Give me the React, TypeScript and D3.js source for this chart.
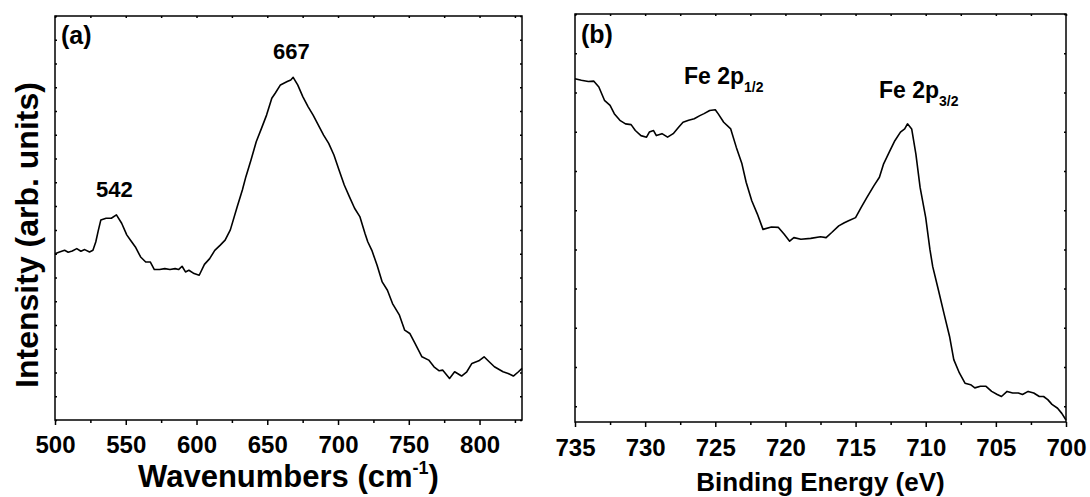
import React, { useEffect, useRef } from "react";
import * as d3 from "d3";

const FONT = "'Liberation Sans', Arial, Helvetica, sans-serif";

// (a) Raman spectrum, intensity in arbitrary tick units
const ramanWave = [
  500, 503.2, 506.8, 509.3, 512.2, 515.4, 518.3, 521, 524.4, 526.8, 528.8, 530.5, 532.4, 536.1, 539.8,
  543.4, 547.1, 550.7, 553.5, 556.8, 560.5, 564.1, 567.3, 570.2, 573.9, 577.6, 581.2, 584.9, 587.3,
  589.8, 592.2, 594.6, 598.3, 601.9, 605.6, 609.3, 612.9, 616.6, 620.2, 623.9, 628.8, 632.4, 634.9,
  638.5, 642.2, 645.9, 649.5, 653.2, 655.6, 659.3, 661.7, 664.1, 666.6, 668.3, 671.5, 675.1, 678.8,
  682.4, 686.1, 689.8, 693.4, 697.1, 700.7, 704.4, 708, 711.7, 715.4, 719, 721, 723.9, 727.6, 731.2,
  734.9, 738.5, 743.4, 747.1, 750.7, 754.4, 759.3, 764.1, 767.8, 771.5, 773.9, 778.8, 782.4, 787.3,
  791, 794.6, 799.5, 803.2, 806.8, 810.5, 816.6, 820.2, 823.9, 827.5, 830,
];
const ramanInt = [
  7.0, 7.07, 7.14, 7.06, 7.11, 7.21, 7.1, 7.17, 7.07, 7.14, 7.49, 7.95, 8.42, 8.49, 8.49,
  8.63, 8.28, 7.79, 7.55, 7.28, 6.86, 6.65, 6.65, 6.33, 6.33, 6.37, 6.33, 6.37, 6.33,
  6.47, 6.23, 6.3, 6.16, 6.09, 6.55, 6.79, 7.14, 7.35, 7.57, 8.0, 8.98, 9.68, 10.24,
  10.94, 11.71, 12.27, 12.83, 13.54, 13.75, 14.1, 14.17, 14.24, 14.31, 14.42, 14.1, 13.61, 13.19,
  12.83, 12.41, 11.99, 11.64, 11.15, 10.52, 9.89, 9.4, 8.91, 8.56, 7.86, 7.5, 7.14, 6.51, 5.81,
  5.46, 4.9, 4.41, 3.78, 3.64, 3.22, 2.66, 2.52, 2.24, 2.07, 2.1, 1.75, 2.03, 1.85,
  2.03, 2.38, 2.49, 2.66, 2.45, 2.24, 2.03, 1.96, 1.85, 2.03, 2.17,
];
const ramanMajor = [500, 550, 600, 650, 700, 750, 800];
const ramanMinor = [525, 575, 625, 675, 725, 775, 825];
const ramanPeakPos = [542, 667];
const ramanPeakText = ["542", "667"];

// (b) XPS Fe 2p spectrum
const xpsEnergy = [
  735, 734.55, 734.05, 733.67, 733.3, 732.9, 732.5, 732.2, 731.8, 731.4, 731.0, 730.7, 730.3, 729.9,
  729.7, 729.4, 729.2, 728.8, 728.4, 728.0, 727.6, 727.3, 726.9, 726.5, 726.1, 725.8, 725.4, 725.0,
  724.8, 724.4, 723.9, 723.5, 723.1, 722.8, 722.4, 722.0, 721.6, 721.0, 720.5, 720.1, 719.7, 719.4,
  718.9, 718.2, 717.5, 717.1, 716.7, 716.2, 715.8, 715.5, 715.0, 714.6, 714.2, 713.7, 713.3, 713.0,
  712.6, 712.2, 711.8, 711.5, 711.3, 711.0, 710.7, 710.4, 710.0, 709.7, 709.5, 709.1, 708.7, 708.3,
  708.0, 707.6, 707.2, 706.8, 706.5, 706.1, 705.7, 705.3, 704.9, 704.6, 704.2, 703.8, 703.4, 703.1,
  702.7, 702.3, 701.9, 701.6, 701.3, 701.0, 700.6, 700.3, 700.0,
];
const xpsInt = [
  8.35, 8.31, 8.28, 8.29, 8.14, 7.8, 7.67, 7.46, 7.29, 7.2, 7.18, 7.03, 6.9, 6.86,
  6.99, 7.03, 6.9, 6.95, 6.86, 6.95, 7.12, 7.24, 7.29, 7.33, 7.41, 7.46, 7.54, 7.56,
  7.46, 7.24, 7.07, 6.6, 6.18, 5.71, 5.24, 4.9, 4.51, 4.57, 4.56, 4.39, 4.21, 4.3,
  4.26, 4.28, 4.32, 4.3, 4.43, 4.6, 4.68, 4.73, 4.81, 5.07, 5.32, 5.62, 5.84, 6.18,
  6.48, 6.77, 6.99, 7.07, 7.2, 7.07, 6.43, 5.58, 4.81, 4.0, 3.56, 2.97, 2.37, 1.78,
  1.19, 0.85, 0.59, 0.55, 0.47, 0.51, 0.51, 0.38, 0.3, 0.25, 0.38, 0.34, 0.34, 0.3,
  0.38, 0.34, 0.25, 0.25, 0.17, 0.05, -0.05, -0.18, -0.35,
];
const xpsMajor = [735, 730, 725, 720, 715, 710, 705, 700];
const xpsMinor = [732.5, 727.5, 722.5, 717.5, 712.5, 707.5, 702.5];
const xpsPeakPos = [724.4, 710.5];
const xpsPeakMain = ["Fe 2p", "Fe 2p"];
const xpsPeakSub = ["1/2", "3/2"];

type Sel = d3.Selection<SVGSVGElement, unknown, null, undefined>;

function drawFrame(svg: Sel, x: d3.ScaleLinear<number, number>, y: d3.ScaleLinear<number, number>,
  major: number[], minor: number[], yTicks: number[], pad: number) {
  const [x0, x1] = x.range();
  const [yb, yt] = y.range();
  const g = svg.append("g");

  const styleAxis = (a: any) => {
    a.select(".domain").remove();
    a.selectAll("line").attr("stroke", "#000").attr("stroke-width", 1.5);
  };

  // bottom axis, labelled majors
  g.append("g")
    .attr("transform", `translate(0,${yb})`)
    .call(d3.axisBottom(x).tickValues(major).tickSize(5).tickSizeOuter(0).tickPadding(pad).tickFormat(d3.format("d")) as any)
    .call(styleAxis)
    .call((a: any) => a.selectAll("text")
      .attr("font-size", 24).attr("font-weight", "bold").attr("font-family", FONT).attr("fill", "#000"));
  // bottom minors
  g.append("g")
    .attr("transform", `translate(0,${yb})`)
    .call(d3.axisBottom(x).tickValues(minor).tickSize(3).tickSizeOuter(0).tickFormat(() => "") as any)
    .call(styleAxis);
  // top mirror ticks
  g.append("g")
    .attr("transform", `translate(0,${yt})`)
    .call(d3.axisTop(x).tickValues([...major, ...minor]).tickSize(-2).tickSizeOuter(0).tickFormat(() => "") as any)
    .call(styleAxis);
  // left / right ticks
  g.append("g")
    .attr("transform", `translate(${x0},0)`)
    .call(d3.axisLeft(y).tickValues(yTicks).tickSize(-2).tickSizeOuter(0).tickFormat(() => "") as any)
    .call(styleAxis);
  g.append("g")
    .attr("transform", `translate(${x1},0)`)
    .call(d3.axisRight(y).tickValues(yTicks).tickSize(-2).tickSizeOuter(0).tickFormat(() => "") as any)
    .call(styleAxis);

  g.append("rect")
    .attr("x", x0).attr("y", yt)
    .attr("width", x1 - x0).attr("height", yb - yt)
    .attr("fill", "none").attr("stroke", "#000").attr("stroke-width", 1.5);
}

function drawLine(svg: Sel, x: d3.ScaleLinear<number, number>, y: d3.ScaleLinear<number, number>,
  xs: number[], ys: number[]) {
  const line = d3.line<[number, number]>()
    .x(d => x(d[0]))
    .y(d => y(d[1]));
  svg.append("path")
    .datum(d3.zip(xs, ys) as [number, number][])
    .attr("fill", "none")
    .attr("stroke", "#000")
    .attr("stroke-width", 1.6)
    .attr("stroke-linejoin", "round")
    .attr("d", line);
}

// value of the curve nearest to a given x
function peakValue(xs: number[], ys: number[], at: number) {
  let best = 0;
  xs.forEach((v, i) => { if (Math.abs(v - at) < Math.abs(xs[best] - at)) best = i; });
  return d3.max(ys.slice(Math.max(0, best - 3), best + 4)) as number;
}

const App = () => {
  const ref = useRef<SVGSVGElement>(null);

  useEffect(() => {
    const svg = d3.select(ref.current) as Sel;
    svg.selectAll("*").remove();

    // ---- (a) Raman ----
    const xa = d3.scaleLinear().domain([500, 830]).range([55, 522]);
    const ya = d3.scaleLinear().domain([0, 17]).range([420, 16]);
    drawFrame(svg, xa, ya, ramanMajor, ramanMinor, d3.range(0, 18), 11);
    drawLine(svg, xa, ya, ramanWave, ramanInt);

    ramanPeakPos.forEach((p, i) => {
      svg.append("text")
        .attr("x", xa(p))
        .attr("y", ya(peakValue(ramanWave, ramanInt, p)) - 18)
        .attr("text-anchor", "middle")
        .attr("font-family", FONT).attr("font-weight", "bold").attr("font-size", 22)
        .text(ramanPeakText[i]);
    });

    svg.append("text")
      .attr("x", 61).attr("y", 44)
      .attr("font-family", FONT).attr("font-weight", "bold").attr("font-size", 25)
      .text("(a)");

    const xt = svg.append("text")
      .attr("x", (xa.range()[0] + xa.range()[1]) / 2).attr("y", 487)
      .attr("text-anchor", "middle")
      .attr("font-family", FONT).attr("font-weight", "bold").attr("font-size", 31);
    xt.append("tspan").text("Wavenumbers (cm");
    xt.append("tspan").attr("font-size", 18).attr("dy", -13).text("-1");
    xt.append("tspan").attr("dy", 13).text(")");

    svg.append("text")
      .attr("transform", `translate(38,${(ya.range()[0] + ya.range()[1]) / 2 + 17}) rotate(-90)`)
      .attr("text-anchor", "middle")
      .attr("font-family", FONT).attr("font-weight", "bold").attr("font-size", 32)
      .text("Intensity (arb. units)");

    // ---- (b) XPS ----
    const xb = d3.scaleLinear().domain([735, 700]).range([575, 1066]);
    const yb = d3.scaleLinear().domain([-0.4, 10]).range([422, 14]);
    drawFrame(svg, xb, yb, xpsMajor, xpsMinor, d3.range(0, 11), 12);
    drawLine(svg, xb, yb, xpsEnergy, xpsInt);

    xpsPeakPos.forEach((p, i) => {
      const t = svg.append("text")
        .attr("x", xb(p))
        .attr("y", yb(peakValue(xpsEnergy, xpsInt, p)) - 26)
        .attr("text-anchor", "middle")
        .attr("font-family", FONT).attr("font-weight", "bold").attr("font-size", 23);
      t.append("tspan").text(xpsPeakMain[i]);
      t.append("tspan").attr("font-size", 14).attr("dy", 8).text(xpsPeakSub[i]);
    });

    svg.append("text")
      .attr("x", 581).attr("y", 43)
      .attr("font-family", FONT).attr("font-weight", "bold").attr("font-size", 25)
      .text("(b)");

    svg.append("text")
      .attr("x", (xb.range()[0] + xb.range()[1]) / 2).attr("y", 491)
      .attr("text-anchor", "middle")
      .attr("font-family", FONT).attr("font-weight", "bold").attr("font-size", 26)
      .text("Binding Energy (eV)");
  }, []);

  return (
    <svg
      ref={ref}
      width={1090}
      height={497}
      style={{ position: "absolute", left: 0, top: 0, background: "#fff" }}
    />
  );
};

export default App;
